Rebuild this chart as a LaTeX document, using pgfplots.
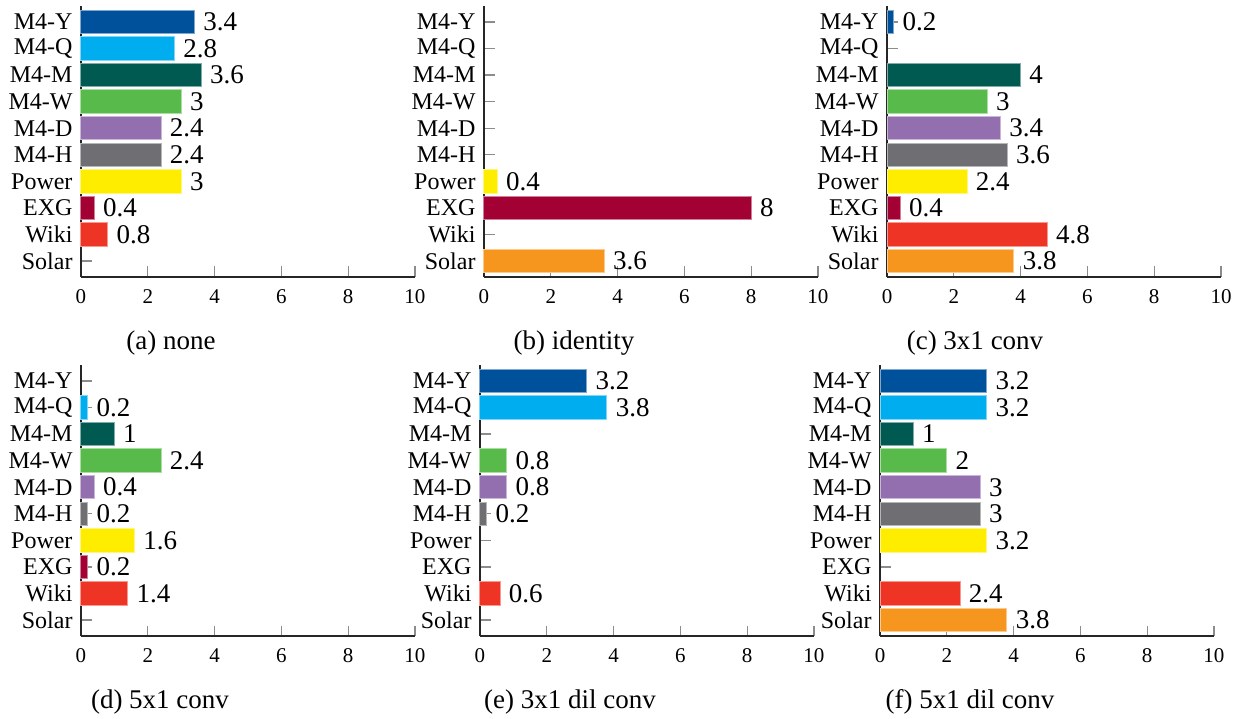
\documentclass[border=0pt]{standalone}
\usepackage{pgfplots}
\pgfplotsset{compat=1.18}
\usepackage{fontspec}
\setmainfont{Liberation Serif}
\newlength\px
\setlength\px{0.4pt}
\definecolor{cY}{HTML}{00519B}
\definecolor{cQ}{HTML}{00AEEF}
\definecolor{cM}{HTML}{015A52}
\definecolor{cW}{HTML}{58BA4B}
\definecolor{cD}{HTML}{946FB0}
\definecolor{cH}{HTML}{6E6E73}
\definecolor{cP}{HTML}{FFED00}
\definecolor{cE}{HTML}{A30034}
\definecolor{cWi}{HTML}{EE3424}
\definecolor{cS}{HTML}{F7961E}
\pgfplotsset{
  bY/.style={fill=cY,draw=cY!50!white},
  bQ/.style={fill=cQ,draw=cQ!50!white},
  bM/.style={fill=cM,draw=cM!50!white},
  bW/.style={fill=cW,draw=cW!50!white},
  bD/.style={fill=cD,draw=cD!50!white},
  bH/.style={fill=cH,draw=cH!50!white},
  bP/.style={fill=cP,draw=cP!50!white},
  bE/.style={fill=cE,draw=cE!50!white},
  bWi/.style={fill=cWi,draw=cWi!50!white},
  bS/.style={fill=cS,draw=cS!50!white},
  panel/.style={
    xbar, scale only axis, width=334\px, height=271\px,
    xmin=0, xmax=10, ymin=-0.6, ymax=9.6,
    xtick={0,2,4,6,8,10}, ytick={0,1,2,3,4,5,6,7,8,9},
    yticklabels={Solar,Wiki,EXG,Power,M4-H,M4-D,M4-W,M4-M,M4-Q,M4-Y},
    axis x line*=bottom, axis y line*=left,
    tick align=inside, major tick length=4.2pt,
    tick style={black!45, line width=0.5pt},
    axis line style={black!85, line width=0.6pt},
    bar width=0.88, bar shift=0pt,
    /pgf/number format/assume math mode=true,
    nodes near coords,
    every node near coord/.append style={text=black, fill=none, draw=none, anchor=west,
      font=\fontsize{10.8}{12}\selectfont},
    yticklabel style={font=\fontsize{9.6}{11}\selectfont, inner sep=3.2pt},
    xticklabel style={font=\fontsize{8.4}{10}\selectfont, inner sep=5pt},
    clip=false,
  },
}
\begin{document}
\begin{tikzpicture}
\path[use as bounding box] (0,0) rectangle (1249\px,-719\px);
% (a) none
\begin{axis}[panel, at={(81\px,-277\px)}, anchor=south west]
\addplot[bY] coordinates {(3.4,9)};
\addplot[bQ] coordinates {(2.8,8)};
\addplot[bM] coordinates {(3.6,7)};
\addplot[bW] coordinates {(3,6)};
\addplot[bD] coordinates {(2.4,5)};
\addplot[bH] coordinates {(2.4,4)};
\addplot[bP] coordinates {(3,3)};
\addplot[bE] coordinates {(0.4,2)};
\addplot[bWi] coordinates {(0.8,1)};
\end{axis}
% (b) identity
\begin{axis}[panel, at={(484\px,-277\px)}, anchor=south west]
\addplot[bP] coordinates {(0.4,3)};
\addplot[bE] coordinates {(8,2)};
\addplot[bS] coordinates {(3.6,0)};
\end{axis}
% (c) 3x1 conv
\begin{axis}[panel, at={(887\px,-277\px)}, anchor=south west]
\addplot[bY] coordinates {(0.2,9)};
\addplot[bM] coordinates {(4,7)};
\addplot[bW] coordinates {(3,6)};
\addplot[bD] coordinates {(3.4,5)};
\addplot[bH] coordinates {(3.6,4)};
\addplot[bP] coordinates {(2.4,3)};
\addplot[bE] coordinates {(0.4,2)};
\addplot[bWi] coordinates {(4.8,1)};
\addplot[bS] coordinates {(3.8,0)};
\end{axis}
% (d) 5x1 conv
\begin{axis}[panel, at={(81\px,-636\px)}, anchor=south west]
\addplot[bQ] coordinates {(0.2,8)};
\addplot[bM] coordinates {(1,7)};
\addplot[bW] coordinates {(2.4,6)};
\addplot[bD] coordinates {(0.4,5)};
\addplot[bH] coordinates {(0.2,4)};
\addplot[bP] coordinates {(1.6,3)};
\addplot[bE] coordinates {(0.2,2)};
\addplot[bWi] coordinates {(1.4,1)};
\end{axis}
% (e) 3x1 dil conv
\begin{axis}[panel, at={(480\px,-636\px)}, anchor=south west]
\addplot[bY] coordinates {(3.2,9)};
\addplot[bQ] coordinates {(3.8,8)};
\addplot[bW] coordinates {(0.8,6)};
\addplot[bD] coordinates {(0.8,5)};
\addplot[bH] coordinates {(0.2,4)};
\addplot[bWi] coordinates {(0.6,1)};
\end{axis}
% (f) 5x1 dil conv
\begin{axis}[panel, at={(880\px,-636\px)}, anchor=south west]
\addplot[bY] coordinates {(3.2,9)};
\addplot[bQ] coordinates {(3.2,8)};
\addplot[bM] coordinates {(1,7)};
\addplot[bW] coordinates {(2,6)};
\addplot[bD] coordinates {(3,5)};
\addplot[bH] coordinates {(3,4)};
\addplot[bP] coordinates {(3.2,3)};
\addplot[bWi] coordinates {(2.4,1)};
\addplot[bS] coordinates {(3.8,0)};
\end{axis}
\begin{scope}[every node/.style={font=\fontsize{10.8}{13}\selectfont}]
\node at (171\px,-343\px) {(a) none};
\node at (574\px,-343\px) {(b) identity};
\node at (975\px,-343\px) {(c) 3x1 conv};
\node at (160\px,-702\px) {(d) 5x1 conv};
\node at (570\px,-702\px) {(e) 3x1 dil conv};
\node at (970\px,-702\px) {(f) 5x1 dil conv};
\end{scope}
\end{tikzpicture}
\end{document}
